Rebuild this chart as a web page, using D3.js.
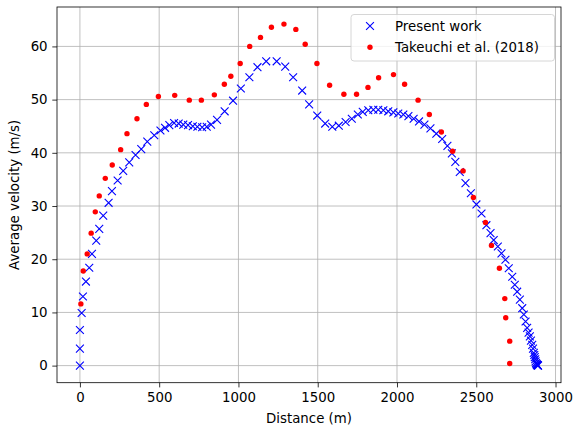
<!DOCTYPE html>
<html>
<head>
<meta charset="utf-8">
<script src="https://cdn.jsdelivr.net/npm/d3@7"></script>
<style>
  body { margin: 0; background: #fff; }
  svg text { font-family: "DejaVu Sans", sans-serif; }
</style>
</head>
<body>
<div id="graf"></div>
<script>
// Datos
const presentDist = [0, 0, 0, 11, 19, 38, 59, 76, 103, 122, 147, 181, 202, 238, 273, 311, 351, 387, 425, 469,
  508, 537, 564, 594, 623, 652, 682, 712, 741, 771, 800, 827, 865, 913, 966, 1015, 1069, 1120, 1175, 1241,
  1295, 1345, 1402, 1446, 1497, 1547, 1592, 1633, 1676, 1715, 1753, 1784, 1819, 1851, 1882, 1914, 1945, 1977,
  2008, 2040, 2072, 2105, 2139, 2173, 2211, 2248, 2285, 2318, 2346, 2368, 2396, 2432, 2466, 2501, 2533, 2564,
  2590, 2610, 2636, 2659, 2684, 2705, 2727, 2743, 2758, 2775, 2790, 2800, 2811, 2821, 2830, 2838, 2845, 2853,
  2858, 2863, 2866, 2869, 2872, 2874, 2877, 2880, 2882, 2884, 2886, 2888, 2890]
const presentVel = [0, 3.2, 6.7, 9.9, 13.0, 15.8, 18.4, 21.0, 23.5, 25.7, 28.2, 30.6, 32.8, 34.8, 36.6, 38.2, 39.6, 40.7, 42.1, 43.3,
  44.2, 44.7, 45.2, 45.6, 45.5, 45.3, 45.2, 45.0, 44.9, 44.8, 44.9, 45.3, 46.2, 47.8, 49.8, 52.1, 54.2, 56.1, 57.2, 57.2,
  56.2, 54.2, 51.7, 49.1, 47.0, 45.5, 44.9, 45.1, 45.8, 46.4, 47.2, 47.7, 48.0, 48.1, 48.1, 48.0, 47.8, 47.6,
  47.4, 47.2, 46.9, 46.4, 45.9, 45.3, 44.6, 43.6, 42.6, 41.3, 39.9, 38.3, 36.4, 34.3, 32.4, 30.3, 28.6, 26.4,
  24.9, 23.6, 22.4, 21.1, 19.9, 18.3, 16.7, 15.2, 13.9, 12.4, 10.8, 9.6, 8.3, 7.1, 6.2, 5.5, 4.7, 3.9,
  3.2, 2.4, 2.0, 1.6, 1.2, 0.8, 0.5, 0.3, 0.2, 0.15, 0.1, 0.05, 0]

const takeuchiDist = [6, 21, 46, 71, 97, 122, 160, 204, 257, 297, 360, 419, 495, 598, 690, 766, 848, 911, 952, 1011,
  1071, 1139, 1208, 1287, 1362, 1421, 1495, 1575, 1665, 1745, 1817, 1884, 1978, 2048, 2133, 2204, 2280, 2351,
  2417, 2482, 2558, 2596, 2646, 2680, 2686, 2711, 2711]
const takeuchiVel = [11.6, 17.8, 21.0, 24.9, 28.9, 31.9, 35.2, 37.7, 40.6, 43.6, 46.4, 49.1, 50.6, 50.8, 49.9, 49.9, 50.9, 52.9, 54.4, 56.8,
  60.0, 61.7, 63.6, 64.2, 63.2, 60.4, 56.8, 52.7, 51.0, 51.0, 52.3, 54.1, 54.7, 52.9, 49.9, 47.2, 43.9, 40.3,
  36.6, 31.6, 26.9, 22.6, 18.3, 12.6, 9.0, 4.6, 0.4]

const xTicks = [0, 500, 1000, 1500, 2000, 2500, 3000]
const yTicks = [0, 10, 20, 30, 40, 50, 60]
const seriesNames = ["Present work", "Takeuchi et al. (2018)"]

const ancho = 573, alto = 434
const margen = { left: 57, right: 12, top: 7, bottom: 51.3 }

const svg = d3.select("#graf").append("svg")
  .attr("width", ancho).attr("height", alto)

// Escalas (margenes de 5% como matplotlib)
const xMin = d3.min(presentDist), xMax = d3.max(presentDist)
const yMax = d3.max(takeuchiVel.concat(presentVel)), yMin = 0
const xPad = (xMax - xMin) * 0.05, yPad = (yMax - yMin) * 0.05

const x = d3.scaleLinear()
  .domain([xMin - xPad, xMax + xPad])
  .range([margen.left, ancho - margen.right])
const y = d3.scaleLinear()
  .domain([yMin - yPad, yMax + yPad])
  .range([alto - margen.bottom, margen.top])

// Grid
const grid = svg.append("g")
grid.selectAll(".gx").data(xTicks).join("line")
  .attr("x1", d => x(d)).attr("x2", d => x(d))
  .attr("y1", margen.top).attr("y2", alto - margen.bottom)
  .attr("stroke", "#b0b0b0").attr("stroke-width", 0.8)
grid.selectAll(".gy").data(yTicks).join("line")
  .attr("y1", d => y(d)).attr("y2", d => y(d))
  .attr("x1", margen.left).attr("x2", ancho - margen.right)
  .attr("stroke", "#b0b0b0").attr("stroke-width", 0.8)

// Ejes
const xAxis = svg.append("g")
  .attr("transform", `translate(0,${alto - margen.bottom})`)
  .call(d3.axisBottom(x).tickValues(xTicks).tickSize(4.7).tickPadding(4.7).tickFormat(d3.format("d")))
const yAxis = svg.append("g")
  .attr("transform", `translate(${margen.left},0)`)
  .call(d3.axisLeft(y).tickValues(yTicks).tickSize(4.7).tickPadding(4.7).tickFormat(d3.format("d")))
;[xAxis, yAxis].forEach(a => {
  a.select(".domain").remove()
  a.selectAll(".tick line").attr("stroke", "#000").attr("stroke-width", 0.8)
  a.selectAll(".tick text").attr("font-size", 13.33).attr("fill", "#000")
    .attr("font-family", "DejaVu Sans, sans-serif")
})

// Series
const datosPresent = presentDist.map((d, i) => ({ x: d, y: presentVel[i] }))
const datosTakeuchi = takeuchiDist.map((d, i) => ({ x: d, y: takeuchiVel[i] }))
const cruz = d3.symbol().type(d3.symbolX).size(42)

svg.append("g").selectAll("path").data(datosPresent).join("path")
  .attr("transform", d => `translate(${x(d.x)},${y(d.y)})`)
  .attr("d", cruz)
  .attr("fill", "none").attr("stroke", "#0000ff").attr("stroke-width", 1.1)

svg.append("g").selectAll("circle").data(datosTakeuchi).join("circle")
  .attr("cx", d => x(d.x)).attr("cy", d => y(d.y)).attr("r", 2.7)
  .attr("fill", "#ff0000")

// Marco
svg.append("rect")
  .attr("x", margen.left).attr("y", margen.top)
  .attr("width", ancho - margen.left - margen.right)
  .attr("height", alto - margen.top - margen.bottom)
  .attr("fill", "none").attr("stroke", "#000").attr("stroke-width", 0.8)

// Etiquetas
svg.append("text")
  .attr("x", (margen.left + ancho - margen.right) / 2).attr("y", 423)
  .attr("text-anchor", "middle").attr("font-size", 13.33).text("Distance (m)")
svg.append("text")
  .attr("transform", `translate(19,${(margen.top + alto - margen.bottom) / 2}) rotate(-90)`)
  .attr("text-anchor", "middle").attr("font-size", 13.33).text("Average velocity (m/s)")

// Leyenda
const leg = svg.append("g")
leg.append("rect")
  .attr("x", 351).attr("y", 14.5).attr("width", 203.5).attr("height", 46.5).attr("rx", 3)
  .attr("fill", "#fff").attr("fill-opacity", 0.8).attr("stroke", "#cccccc").attr("stroke-width", 0.8)
leg.append("path").attr("transform", "translate(370,26)").attr("d", cruz)
  .attr("fill", "none").attr("stroke", "#0000ff").attr("stroke-width", 1.1)
leg.append("circle").attr("cx", 370).attr("cy", 47.3).attr("r", 2.7).attr("fill", "#ff0000")
leg.selectAll(".lt").data(seriesNames).join("text")
  .attr("x", 395).attr("y", (d, i) => 30.8 + i * 21.3)
  .attr("font-size", 13.33).text(d => d)
</script>
</body>
</html>
